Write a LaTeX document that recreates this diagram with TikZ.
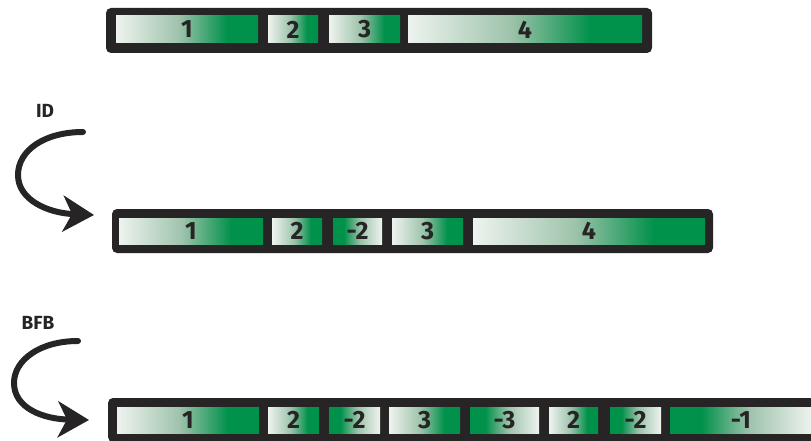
\documentclass[tikz,border=0pt]{standalone}
\usepackage{fontspec}
\setmainfont{Fira Sans}
\usetikzlibrary{arrows.meta}
\definecolor{segPale}{HTML}{EEF3EF}
\definecolor{segMid}{HTML}{9EC3AB}
\definecolor{segGreen}{HTML}{00914A}
\definecolor{barDark}{HTML}{262425}
\pgfdeclarehorizontalshading{segForward}{100bp}{color(0bp)=(segPale); color(25bp)=(segPale);
  color(47bp)=(segMid); color(64bp)=(segGreen); color(100bp)=(segGreen)}
\pgfdeclarehorizontalshading{segReverse}{100bp}{color(0bp)=(segGreen); color(36bp)=(segGreen);
  color(53bp)=(segMid); color(75bp)=(segPale); color(100bp)=(segPale)}
\tikzset{
  chrbar/.style={fill=barDark, rounded corners=5pt, inner sep=0pt},
  segment/.style={shading=#1, inner sep=0pt, minimum height=26pt, text=barDark,
    font=\fontsize{25}{26}\selectfont\bfseries},
  eventlabel/.style={font=\fontsize{19}{20}\selectfont\bfseries, text=barDark},
  eventarrow/.style={draw=barDark, line width=6pt,
    -{Stealth[length=31pt,width=36pt,inset=9pt]}}
}
\begin{document}
\begin{tikzpicture}[x=1pt, y=-1pt, line cap=round]
  \useasboundingbox (0,0) rectangle (811,441);
  \clip (0,0) rectangle (811,441);

  % original chromosome
  \node[chrbar, minimum width=546pt, minimum height=45pt] (origbar) at (379,30.5) {};
  \foreach \idx/\cx/\segw/\segtext/\dir in {
    1/187/142/1/segForward,
    2/293/50/2/segForward,
    3/364.5/71/3/segForward,
    4/525/234/4/segForward}{
    \node[segment=\dir, minimum width=\segw pt, minimum height=27pt] (orig\idx) at (\cx,29.5) {\segtext};
  }

  % after inverted duplication
  \node[eventlabel] (idlabel) at (45,111) {ID};
  \node[chrbar, minimum width=601pt, minimum height=44pt] (idbar) at (412.5,231) {};
  \foreach \idx/\cx/\segw/\segtext/\dir in {
    1/191/144/1/segForward,
    2/297/50/2/segForward,
    3/357.5/49/-2/segReverse,
    4/427.5/71/3/segForward,
    5/589/232/4/segForward}{
    \node[segment=\dir, minimum width=\segw pt] (id\idx) at (\cx,231) {\segtext};
  }
  \coordinate (idstart) at (83,132);
  \coordinate (idend) at (94,215);
  \draw[eventarrow] (idstart) .. controls (45,132) and (18,150) .. (18,175)
    .. controls (18,200) and (48,213) .. (idend);

  % after breakage-fusion-bridge
  \node[eventlabel] (bfblabel) at (38,323) {BFB};
  \node[chrbar, minimum width=722pt, minimum height=44pt] (bfbbar) at (469,420) {};
  \foreach \idx/\cx/\segw/\segtext/\dir in {
    1/188/142/1/segForward,
    2/293.5/51/2/segForward,
    3/354.5/51/-2/segReverse,
    4/424.5/71/3/segForward,
    5/504.5/69/-3/segReverse,
    6/573.5/49/2/segForward,
    7/635.5/51/-2/segReverse,
    8/741/142/-1/segReverse}{
    \node[segment=\dir, minimum width=\segw pt] (bfb\idx) at (\cx,420) {\segtext};
  }
  \coordinate (bfbstart) at (78,341);
  \coordinate (bfbend) at (89,420);
  \draw[eventarrow] (bfbstart) .. controls (40,341) and (14,360) .. (14,383)
    .. controls (14,408) and (43,419) .. (bfbend);
\end{tikzpicture}
\end{document}
